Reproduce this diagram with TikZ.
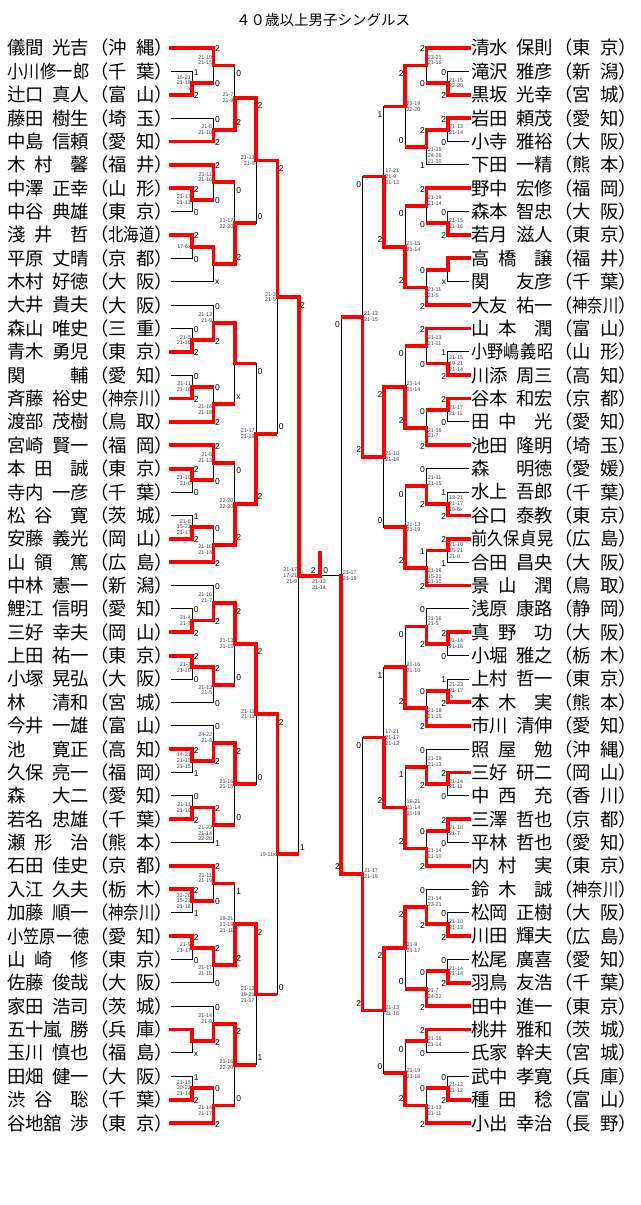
\documentclass[tikz,border=0pt]{standalone}
\usepackage{fontspec}
\usepackage{graphicx}
\setmainfont{Noto Sans CJK JP}
\newfontfamily\numfont{Liberation Sans}
\usetikzlibrary{calc}
\pgfdeclarelayer{fg}
\pgfsetlayers{main,fg}
\definecolor{scoreink}{RGB}{55,55,90}
\newcommand{\xs}[1]{\scalebox{0.88}[1]{#1}}
\newcommand{\xt}[1]{\scalebox{0.833}[1]{#1}}
\newcommand{\nmb}[2]{\hbox to 82pt{#1\hfil #2}}
\newcommand{\pfb}[1]{\hbox to 82.8pt{（#1）}}
\tikzset{
  ln/.style={black, line width=0.9pt},
  win/.style={red, line width=3.8pt, line cap=rect, line join=miter},
  adv/.style={red, line width=3.8pt},
  nm/.style={inner sep=0pt, font=\fontsize{18.4}{18.4}\selectfont},
  lab/.style={inner sep=0.3pt, font=\numfont\fontsize{8.5}{8.5}\selectfont},
  sc/.style={inner sep=0.3pt, text=scoreink, font=\numfont\fontsize{5.4}{5.8}\selectfont},
}
% left match: level, name, top, bottom, winner, top score, bottom score, anchor, games
\newcommand{\mL}[9]{%
  \pgfmathtruncatemacro{\nk}{#1+1}%
  \ifnum#1<3 \def\dt{1}\def\db{1}\else\def\dt{8}\def\db{-7}\fi
  \coordinate (#2t) at (#3 -| lv#1);
  \coordinate (#2b) at (#4 -| lv#1);
  \coordinate (#2) at ($(#2t)!0.5!(#2b)$);
  \draw[ln] (#3) -- (#2t) -- (#2b) -- (#4);
  \begin{pgfonlayer}{fg}
    \if t#5\draw[win] (#3) -- (#2t) -- (#2);\else\draw[win] (#4) -- (#2b) -- (#2);\fi
    \draw[adv] (#2) -- (#2 -| lv\nk);
  \end{pgfonlayer}
  \node[lab, anchor=west] at ($(#2t)+(1,\dt)$) {#6};
  \node[lab, anchor=west] at ($(#2b)+(1,\db)$) {#7};
  \node[sc, anchor=#8, align=right] at ($(#2)+(-1,0)$) {#9};
}
% right match
\newcommand{\mR}[9]{%
  \pgfmathtruncatemacro{\nk}{#1+1}%
  \ifnum#1<3 \def\dt{1}\def\db{1}\else\def\dt{8}\def\db{-7}\fi
  \coordinate (#2t) at (#3 -| rv#1);
  \coordinate (#2b) at (#4 -| rv#1);
  \coordinate (#2) at ($(#2t)!0.5!(#2b)$);
  \draw[ln] (#3) -- (#2t) -- (#2b) -- (#4);
  \begin{pgfonlayer}{fg}
    \if t#5\draw[win] (#3) -- (#2t) -- (#2);\else\draw[win] (#4) -- (#2b) -- (#2);\fi
    \draw[adv] (#2) -- (#2 -| rv\nk);
  \end{pgfonlayer}
  \node[lab, anchor=east] at ($(#2t)+(-1,\dt)$) {#6};
  \node[lab, anchor=east] at ($(#2b)+(-1,\db)$) {#7};
  \node[sc, anchor=#8, align=left] at ($(#2)+(1,0)$) {#9};
}
\begin{document}
\begin{tikzpicture}[x=1pt, y=-1pt]
\useasboundingbox (0,0) rectangle (640,1205);
\node[font=\fontsize{14.5}{15}\selectfont] (title) at (323,20) {４０歳以上男子シングルス};
\foreach \k in {0,...,7} {
  \coordinate (lv\k) at (171+21.285*\k, 0);
  \coordinate (rv\k) at (469-21.285*\k, 0);
}
% left players
\foreach \i/\s/\g/\p in {
0/儀間/光吉/沖\hfil 縄, 1/\xs{小川}/\xs{修一郎}/千\hfil 葉, 2/辻口/真人/富\hfil 山,
3/藤田/樹生/埼\hfil 玉, 4/中島/信頼/愛\hfil 知, 5/木\hfil 村/\hfil 馨/福\hfil 井,
6/中澤/正幸/山\hfil 形, 7/中谷/典雄/東\hfil 京, 8/淺\hfil 井/\hfil 哲/\xt{北海道},
9/平原/丈晴/京\hfil 都, 10/木村/好徳/大\hfil 阪, 11/大井/貴夫/大\hfil 阪,
12/森山/唯史/三\hfil 重, 13/青木/勇児/東\hfil 京, 14/関/輔/愛\hfil 知,
15/斉藤/裕史/\xt{神奈川}, 16/渡部/茂樹/鳥\hfil 取, 17/宮崎/賢一/福\hfil 岡,
18/本\hfil 田/\hfil 誠/東\hfil 京, 19/寺内/一彦/千\hfil 葉, 20/松\hfil 谷/\hfil 寛/茨\hfil 城,
21/安藤/義光/岡\hfil 山, 22/山\hfil 領/\hfil 篤/広\hfil 島, 23/中林/憲一/新\hfil 潟,
24/鯉江/信明/愛\hfil 知, 25/三好/幸夫/岡\hfil 山, 26/上田/祐一/東\hfil 京,
27/小塚/晃弘/大\hfil 阪, 28/林/清和/宮\hfil 城, 29/今井/一雄/富\hfil 山,
30/池/寛正/高\hfil 知, 31/久保/亮一/福\hfil 岡, 32/森/大二/愛\hfil 知,
33/若名/忠雄/千\hfil 葉, 34/瀬\hfil 形/\hfil 治/熊\hfil 本, 35/石田/佳史/京\hfil 都,
36/入江/久夫/栃\hfil 木, 37/加藤/順一/\xt{神奈川}, 38/\xs{小笠原}/\xs{一徳}/愛\hfil 知,
39/山\hfil 崎/\hfil 修/東\hfil 京, 40/佐藤/俊哉/大\hfil 阪, 41/家田/浩司/茨\hfil 城,
42/五十嵐/勝/兵\hfil 庫, 43/玉川/慎也/福\hfil 島, 44/田畑/健一/大\hfil 阪,
45/渋\hfil 谷/\hfil 聡/千\hfil 葉, 46/谷地舘/渉/東\hfil 京}
{
  \node[nm, anchor=west] (nl\i) at (7, 48+23.37*\i) {\nmb{\s}{\g}};
  \node[nm, anchor=west] (pl\i) at (90, 48+23.37*\i) {\pfb{\p}};
  \coordinate (L\i) at (171, 48+23.37*\i);
}
% right players
\foreach \i/\s/\g/\p in {
0/清水/保則/東\hfil 京, 1/滝沢/雅彦/新\hfil 潟, 2/黒坂/光幸/宮\hfil 城,
3/岩田/頼茂/愛\hfil 知, 4/小寺/雅裕/大\hfil 阪, 5/下田/一精/熊\hfil 本,
6/野中/宏修/福\hfil 岡, 7/森本/智忠/大\hfil 阪, 8/若月/滋人/東\hfil 京,
9/高\hfil 橋/\hfil 譲/福\hfil 井, 10/関/友彦/千\hfil 葉, 11/大友/祐一/\xt{神奈川},
12/山\hfil 本/\hfil 潤/富\hfil 山, 13/\xs{小野嶋}/\xs{義昭}/山\hfil 形, 14/川添/周三/高\hfil 知,
15/谷本/和宏/京\hfil 都, 16/田\hfil 中/\hfil 光/愛\hfil 知, 17/池田/隆明/埼\hfil 玉,
18/森/明徳/愛\hfil 媛, 19/水上/吾郎/千\hfil 葉, 20/谷口/泰教/東\hfil 京,
21/\xs{前久保}/\xs{貞晃}/広\hfil 島, 22/合田/昌央/大\hfil 阪, 23/景\hfil 山/\hfil 潤/鳥\hfil 取,
24/浅原/康路/静\hfil 岡, 25/真\hfil 野/\hfil 功/大\hfil 阪, 26/小堀/雅之/栃\hfil 木,
27/上村/哲一/東\hfil 京, 28/本\hfil 木/\hfil 実/熊\hfil 本, 29/市川/清伸/愛\hfil 知,
30/照\hfil 屋/\hfil 勉/沖\hfil 縄, 31/三好/研二/岡\hfil 山, 32/中\hfil 西/\hfil 充/香\hfil 川,
33/三澤/哲也/京\hfil 都, 34/平林/哲也/愛\hfil 知, 35/内\hfil 村/\hfil 実/東\hfil 京,
36/鈴\hfil 木/\hfil 誠/\xt{神奈川}, 37/松岡/正樹/大\hfil 阪, 38/川田/輝夫/広\hfil 島,
39/松尾/廣喜/愛\hfil 知, 40/羽鳥/友浩/千\hfil 葉, 41/田中/進一/東\hfil 京,
42/桃井/雅和/茨\hfil 城, 43/氏家/幹夫/宮\hfil 城, 44/武中/孝寛/兵\hfil 庫,
45/種\hfil 田/\hfil 稔/富\hfil 山, 46/小出/幸治/長\hfil 野}
{
  \node[nm, anchor=west] (nr\i) at (471, 48+23.37*\i) {\nmb{\s}{\g}};
  \node[nm, anchor=west] (pr\i) at (554, 48+23.37*\i) {\pfb{\p}};
  \coordinate (R\i) at (469, 48+23.37*\i);
}
% left half
\mL{1}{pa}{L1}{L2}{b}{1}{2}{east}{15-21\\21-18\\-x}
\mL{1}{pb}{L6}{L7}{t}{2}{0}{east}{21-17\\21-13}
\mL{1}{pc}{L8}{L9}{t}{2}{0}{east}{17-6x}
\mL{1}{pd}{L12}{L13}{b}{0}{2}{east}{21-5\\21-10}
\mL{1}{pe}{L14}{L15}{b}{0}{2}{east}{21-11\\21-16}
\mL{1}{pf}{L18}{L19}{t}{2}{0}{east}{21-10\\21-6}
\mL{1}{pg}{L20}{L21}{b}{1}{2}{east}{21-8\\15-21\\21-17}
\mL{1}{ph}{L24}{L25}{b}{0}{2}{east}{21-4\\21-7}
\mL{1}{pi}{L26}{L27}{t}{2}{0}{east}{21-7\\21-10}
\mL{1}{pj}{L30}{L31}{t}{2}{1}{east}{14-21\\21-15\\21-15}
\mL{1}{pk}{L32}{L33}{b}{0}{2}{east}{21-11\\21-19}
\mL{1}{pl}{L36}{L37}{t}{2}{1}{east}{22-20\\15-21\\21-18}
\mL{1}{pm}{L38}{L39}{t}{2}{0}{east}{21-9\\21-17}
\mL{1}{pn}{L42}{L43}{t}{}{x}{east}{}
\mL{1}{po}{L44}{L45}{b}{1}{2}{east}{21-15\\20-22\\21-14}
\mL{2}{ra}{L0}{pa}{t}{2}{0}{south east}{21-10\\21-15}
\mL{2}{rb}{L3}{L4}{b}{0}{2}{east}{21-6\\21-10}
\mL{2}{rc}{L5}{pb}{t}{2}{0}{south east}{21-11\\21-16}
\mL{2}{rd}{pc}{L10}{t}{}{x}{north east}{}
\mL{2}{re}{L11}{pd}{b}{0}{2}{south east}{21-13\\21-9}
\mL{2}{rf}{pe}{L16}{b}{0}{2}{north east}{21-16\\21-18}
\mL{2}{rg}{L17}{pf}{t}{2}{0}{south east}{21-8\\21-13}
\mL{2}{rh}{pg}{L22}{b}{0}{2}{north east}{21-16\\21-14}
\mL{2}{ri}{L23}{ph}{b}{0}{2}{south east}{21-16\\21-7}
\mL{2}{rj}{pi}{L28}{t}{2}{0}{north east}{21-13\\21-5}
\mL{2}{rk}{L29}{pj}{b}{0}{2}{south east}{24-22\\21-8}
\mL{2}{rl}{pk}{L34}{t}{2}{1}{north east}{21-23\\21-14\\22-20}
\mL{2}{rm}{L35}{pl}{t}{2}{0}{south east}{21-11\\21-19}
\mL{2}{rn}{pm}{L40}{t}{2}{0}{north east}{21-17\\21-15}
\mL{2}{ro}{L41}{pn}{b}{0}{2}{south east}{21-14\\21-9}
\mL{2}{rp}{po}{L46}{b}{0}{2}{north east}{21-14\\21-17}
\mL{3}{sa}{ra}{rb}{b}{0}{2}{east}{21-7\\21-9}
\mL{3}{sb}{rc}{rd}{b}{0}{2}{east}{21-17\\22-20}
\mL{3}{sc}{re}{rf}{t}{}{x}{east}{}
\mL{3}{sd}{rg}{rh}{b}{0}{2}{east}{22-20\\22-20}
\mL{3}{se}{ri}{rj}{t}{2}{0}{east}{21-13\\21-15}
\mL{3}{sf}{rk}{rl}{t}{2}{0}{east}{21-16\\21-15}
\mL{3}{sg}{rm}{rn}{b}{1}{2}{east}{19-21\\21-19\\21-11}
\mL{3}{sh}{ro}{rp}{t}{2}{0}{east}{21-16\\22-20}
\mL{4}{ta}{sa}{sb}{t}{2}{0}{east}{21-13\\21-9}
\mL{4}{tb}{sc}{sd}{b}{0}{2}{east}{21-17\\21-19}
\mL{4}{tc}{se}{sf}{t}{2}{0}{east}{21-11\\21-11}
\mL{4}{td}{sg}{sh}{t}{2}{1}{east}{21-13\\19-21\\21-17}
\mL{5}{ua}{ta}{tb}{t}{2}{0}{east}{21-3\\21-5}
\mL{5}{ub}{tc}{td}{t}{2}{0}{east}{19-11x}
\mL{6}{va}{ua}{ub}{t}{2}{1}{east}{21-17\\17-21\\21-9}
% right half
\mR{1}{qa}{R1}{R2}{b}{0}{2}{west}{21-15\\22-20}
\mR{1}{qb}{R3}{R4}{t}{2}{0}{west}{21-13\\21-14}
\mR{1}{qc}{R7}{R8}{b}{0}{2}{west}{21-15\\21-16}
\mR{1}{qd}{R9}{R10}{t}{}{x}{west}{}
\mR{1}{qe}{R13}{R14}{b}{1}{2}{west}{21-15\\19-21\\21-14}
\mR{1}{qf}{R15}{R16}{t}{2}{0}{west}{21-17\\21-11}
\mR{1}{qg}{R19}{R20}{b}{1}{2}{west}{13-21\\21-17\\19-6x}
\mR{1}{qh}{R21}{R22}{t}{2}{1}{west}{21-10\\15-21\\21-9}
\mR{1}{qi}{R25}{R26}{t}{2}{0}{west}{21-14\\21-16}
\mR{1}{qj}{R27}{R28}{b}{1}{2}{west}{21-23\\21-17\\-x}
\mR{1}{qk}{R31}{R32}{t}{2}{0}{west}{21-14\\21-11}
\mR{1}{ql}{R33}{R34}{t}{2}{0}{west}{21-10\\21-7}
\mR{1}{qm}{R37}{R38}{b}{0}{2}{west}{21-10\\21-13}
\mR{1}{qn}{R39}{R40}{b}{0}{2}{west}{21-14\\21-14}
\mR{1}{qo}{R44}{R45}{b}{0}{2}{west}{21-12\\21-12}
\mR{2}{ya}{R0}{qa}{t}{2}{0}{south west}{23-21\\21-16}
\mR{2}{yb}{qb}{R5}{t}{2}{1}{north west}{21-15\\24-26\\21-10}
\mR{2}{yc}{R6}{qc}{t}{2}{0}{south west}{21-19\\21-14}
\mR{2}{yd}{qd}{R11}{b}{0}{2}{north west}{21-11\\21-5}
\mR{2}{ye}{R12}{qe}{t}{2}{0}{south west}{21-13\\21-11}
\mR{2}{yf}{qf}{R17}{b}{0}{2}{north west}{21-16\\21-7}
\mR{2}{yg}{R18}{qg}{b}{0}{2}{south west}{21-11\\21-15}
\mR{2}{yh}{qh}{R23}{b}{1}{2}{north west}{21-16\\15-21\\21-10}
\mR{2}{yi}{R24}{qi}{b}{0}{2}{south west}{21-16\\21-5}
\mR{2}{yj}{qj}{R29}{b}{0}{2}{north west}{21-18\\21-15}
\mR{2}{yk}{R30}{qk}{b}{0}{2}{south west}{21-19\\21-13}
\mR{2}{yl}{ql}{R35}{b}{0}{2}{north west}{21-14\\21-10}
\mR{2}{ym}{R36}{qm}{b}{0}{2}{south west}{21-14\\23-21}
\mR{2}{yn}{qn}{R41}{b}{0}{2}{north west}{21-7\\24-22}
\mR{2}{yo}{R42}{R43}{t}{2}{0}{west}{21-16\\21-14}
\mR{2}{yp}{qo}{R46}{b}{0}{2}{north west}{21-13\\21-11}
\mR{3}{za}{ya}{yb}{t}{2}{0}{west}{21-19\\22-20}
\mR{3}{zb}{yc}{yd}{b}{0}{2}{west}{21-15\\21-14}
\mR{3}{zc}{ye}{yf}{b}{0}{2}{west}{21-14\\21-14}
\mR{3}{zd}{yg}{yh}{b}{0}{2}{west}{21-13\\21-19}
\mR{3}{ze}{yi}{yj}{b}{0}{2}{west}{21-16\\21-10}
\mR{3}{zf}{yk}{yl}{b}{1}{2}{west}{19-21\\21-14\\21-19}
\mR{3}{zg}{ym}{yn}{t}{2}{0}{west}{21-9\\21-17}
\mR{3}{zh}{yo}{yp}{b}{0}{2}{west}{21-19\\21-16}
\mR{4}{wa}{za}{zb}{b}{1}{2}{west}{17-21\\21-9\\21-13}
\mR{4}{wb}{zc}{zd}{t}{2}{0}{west}{21-10\\21-19}
\mR{4}{wc}{ze}{zf}{b}{1}{2}{west}{17-21\\21-17\\21-13}
\mR{4}{wd}{zg}{zh}{t}{2}{0}{west}{21-13\\21-16}
\mR{5}{xa}{wa}{wb}{b}{0}{2}{west}{21-13\\21-15}
\mR{5}{xb}{wc}{wd}{b}{0}{2}{west}{21-17\\21-19}
% right semi and final
\coordinate (vbt) at (xa -| rv6);
\coordinate (vbb) at (xb -| rv6);
\coordinate (vb) at (va -| rv6);
\coordinate (fin) at (va -| lv7);
\draw[ln] (xa) -- (vbt) -- (vbb) -- (xb);
\draw[ln] (vb) -- (fin);
\begin{pgfonlayer}{fg}
  \draw[win] (xb) -- (vbb) -- (vb);
  \draw[win] (fin) -- ++(0,-23);
\end{pgfonlayer}
\node[lab, anchor=east] at ($(vbt)+(-1,8)$) {0};
\node[lab, anchor=east] at ($(vbb)+(-1,-7)$) {2};
\node[sc, anchor=west, align=left] at ($(vb)+(1,0)$) {21-17\\21-19};
\node[lab, anchor=south east] at ($(fin)+(-4,-2)$) {2};
\node[lab, anchor=south west] at ($(fin)+(3,-2)$) {0};
\node[sc, anchor=north, align=center] at ($(fin)+(-1,4)$) {21-13\\21-14};
\end{tikzpicture}
\end{document}
